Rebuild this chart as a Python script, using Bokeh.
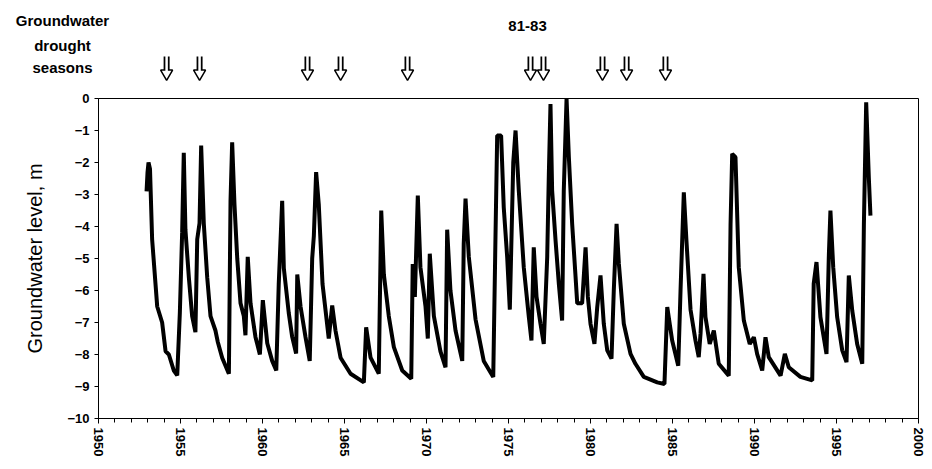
from bokeh.plotting import figure
from bokeh.layouts import column
from bokeh.models import Range1d, SingleIntervalTicker, FixedTicker
from bokeh.core.properties import value
from bokeh.embed import file_html
from bokeh.resources import INLINE

# ---- data ----
years = [1952.93, 1952.99, 1953.05, 1953.14, 1953.27, 1953.58, 1953.88, 1954.09, 1954.29, 1954.59,
         1954.80, 1954.96, 1955.10, 1955.20, 1955.30, 1955.51, 1955.71, 1955.91, 1956.02, 1956.16,
         1956.26, 1956.42, 1956.63, 1956.83, 1957.13, 1957.27, 1957.54, 1957.95, 1958.05, 1958.15,
         1958.29, 1958.46, 1958.66, 1958.86, 1958.96, 1959.10, 1959.27, 1959.57, 1959.84, 1960.02,
         1960.29, 1960.59, 1960.84, 1960.99, 1961.20, 1961.30, 1961.60, 1961.81, 1962.05, 1962.12,
         1962.32, 1962.62, 1962.88, 1963.03, 1963.13, 1963.27, 1963.43, 1963.66, 1963.84, 1964.04,
         1964.25, 1964.45, 1964.76, 1965.37, 1966.18, 1966.32, 1966.59, 1967.09, 1967.24, 1967.40,
         1967.70, 1968.01, 1968.52, 1969.07, 1969.16, 1969.29, 1969.47, 1969.63, 1969.94, 1970.08,
         1970.20, 1970.45, 1970.85, 1971.16, 1971.26, 1971.46, 1971.77, 1972.18, 1972.27, 1972.38,
         1972.58, 1972.99, 1973.49, 1974.07, 1974.21, 1974.31, 1974.55, 1974.71, 1974.92, 1975.08,
         1975.29, 1975.43, 1975.63, 1975.93, 1976.24, 1976.40, 1976.54, 1976.71, 1976.95, 1977.15,
         1977.36, 1977.46, 1977.56, 1977.66, 1977.87, 1978.07, 1978.27, 1978.37, 1978.54, 1978.68,
         1978.88, 1979.09, 1979.19, 1979.49, 1979.70, 1979.84, 1980.00, 1980.24, 1980.41, 1980.61,
         1980.81, 1981.02, 1981.28, 1981.42, 1981.59, 1981.73, 1982.03, 1982.44, 1982.74, 1983.25,
         1984.07, 1984.51, 1984.68, 1984.98, 1985.35, 1985.49, 1985.69, 1985.85, 1986.10, 1986.40,
         1986.60, 1986.71, 1986.89, 1987.01, 1987.27, 1987.52, 1987.82, 1988.43, 1988.54, 1988.64,
         1988.84, 1989.04, 1989.35, 1989.71, 1989.96, 1990.16, 1990.47, 1990.67, 1990.87, 1991.59,
         1991.85, 1992.09, 1992.80, 1993.52, 1993.61, 1993.78, 1994.02, 1994.39, 1994.53, 1994.63,
         1994.80, 1995.04, 1995.35, 1995.61, 1995.75, 1995.96, 1996.26, 1996.57, 1996.67, 1996.81,
         1996.97, 1997.07]
level = [-2.9, -2.3, -2.0, -2.2, -4.4, -6.5, -7.0, -7.9, -8.0, -8.5,
         -8.65, -6.7, -4.2, -1.7, -4.1, -5.6, -6.8, -7.3, -4.4, -3.9,
         -1.47, -3.9, -5.6, -6.8, -7.25, -7.6, -8.1, -8.6, -3.2, -1.37,
         -3.3, -5.0, -6.4, -6.8, -7.4, -4.95, -6.4, -7.45, -8.0, -6.3,
         -7.65, -8.2, -8.5, -5.8, -3.2, -5.3, -6.7, -7.45, -7.97, -5.5,
         -6.5, -7.45, -8.2, -5.0, -4.3, -2.3, -3.3, -5.8, -6.6, -7.5,
         -6.47, -7.25, -8.1, -8.6, -8.87, -7.15, -8.1, -8.6, -3.5, -5.5,
         -6.8, -7.77, -8.5, -8.76, -5.17, -6.2, -3.03, -5.27, -6.5, -7.5,
         -4.85, -6.8, -7.9, -8.4, -4.1, -6.0, -7.25, -8.2, -4.55, -3.13,
         -4.95, -6.9, -8.2, -8.7, -4.2, -1.16, -1.16, -3.4, -4.96, -6.6,
         -2.0, -1.0, -2.9, -5.27, -6.83, -7.56, -4.65, -6.2, -7.04, -7.67,
         -4.96, -2.35, -0.17, -2.87, -4.44, -5.8, -6.94, -2.9, 0.0, -1.83,
         -3.9, -5.58, -6.4, -6.4, -4.65, -6.2, -7.04, -7.67, -6.52, -5.53,
         -7.04, -7.87, -8.13, -6.0, -3.92, -5.17, -7.04, -7.98, -8.29, -8.7,
         -8.87, -8.92, -6.52, -7.56, -8.35, -6.0, -2.93, -4.44, -6.6, -7.56,
         -8.08, -7.35, -5.48, -6.83, -7.67, -7.25, -8.29, -8.66, -3.92, -1.73,
         -1.83, -5.27, -6.94, -7.67, -7.46, -7.98, -8.5, -7.46, -8.08, -8.66,
         -7.98, -8.4, -8.7, -8.81, -5.79, -5.11, -6.83, -7.98, -4.96, -3.5,
         -5.27, -6.83, -7.87, -8.24, -5.53, -6.63, -7.67, -8.29, -3.92, -0.12,
         -2.46, -3.66]

drought_years = [1954.15, 1956.16, 1962.74, 1964.76, 1968.84,
                 1976.34, 1977.13, 1980.73, 1982.2, 1984.57]
y_ticks = list(range(-10, 1))
header_lines = ["Groundwater", "drought", "seasons"]
period_label = "81-83"
y_title = "Groundwater level, m"

FONT = "Liberation Sans"
W = 926

# ---------- header strip (text + arrows), same year scale as the chart ----------
hdr = figure(width=W, height=90, output_backend="svg", toolbar_location=None,
             x_range=Range1d(1944.02, 2000), y_range=Range1d(0, 90),
             min_border_left=0, min_border_right=8, min_border_top=0, min_border_bottom=0)
hdr.frame_align = False
hdr.axis.visible = False
hdr.grid.visible = False
hdr.outline_line_color = None

hdr.text(x=[1947.8] * len(header_lines), y=[70, 45, 23], text=header_lines,
         text_align="center", text_baseline="middle", text_font=value(FONT),
         text_font_style="bold", text_font_size="15px", text_color="black")
hdr.text(x=[1976.16], y=[65], text=[period_label], text_align="center", text_baseline="middle",
         text_font=value(FONT), text_font_style="bold", text_font_size="15px", text_color="black")

# hollow down-arrows (double shaft + open head)
n = len(drought_years)
hdr.segment(x0=drought_years, y0=[34] * n, x1=drought_years, y1=[19] * n,
            line_color="black", line_width=6, line_cap="butt")
hdr.scatter(x=drought_years, y=[17] * n, marker="inverted_triangle", size=12,
            fill_color="white", line_color="black", line_width=1.5)
hdr.segment(x0=drought_years, y0=[35] * n, x1=drought_years, y1=[18] * n,
            line_color="white", line_width=2.5, line_cap="butt")

# ---------- main chart ----------
p = figure(width=W, height=375, output_backend="svg", toolbar_location=None,
           x_range=Range1d(1950, 2000), y_range=Range1d(-10, 0),
           min_border_left=98, min_border_right=8, min_border_top=8, min_border_bottom=47)
p.frame_align = False

p.line(years, level, line_color="black", line_width=4)

p.grid.visible = False
p.outline_line_color = "black"
p.outline_line_width = 1

xa = p.xaxis[0]
xa.ticker = SingleIntervalTicker(interval=5, num_minor_ticks=5)
xa.major_label_orientation = "vertical"
xa.major_tick_in = 0
xa.major_tick_out = 5
xa.minor_tick_in = 0
xa.minor_tick_out = 4
xa.major_label_standoff = 4
xa.major_label_text_font = FONT
xa.major_label_text_font_style = "bold"
xa.major_label_text_font_size = "13px"
xa.major_label_text_color = "black"
xa.axis_line_color = "black"

ya = p.yaxis[0]
ya.ticker = FixedTicker(ticks=y_ticks)
ya.major_tick_in = 0
ya.major_tick_out = 4
ya.minor_tick_line_color = None
ya.major_label_text_font = FONT
ya.major_label_text_font_style = "bold"
ya.major_label_text_font_size = "13px"
ya.major_label_text_color = "black"
ya.axis_label = y_title
ya.axis_label_text_font = FONT
ya.axis_label_text_font_style = "normal"
ya.axis_label_text_font_size = "20px"
ya.axis_label_text_color = "black"
ya.axis_label_standoff = 18
ya.axis_line_color = "black"

layout = column(hdr, p, spacing=0)
open("out.html", "w").write(file_html(layout, INLINE))
